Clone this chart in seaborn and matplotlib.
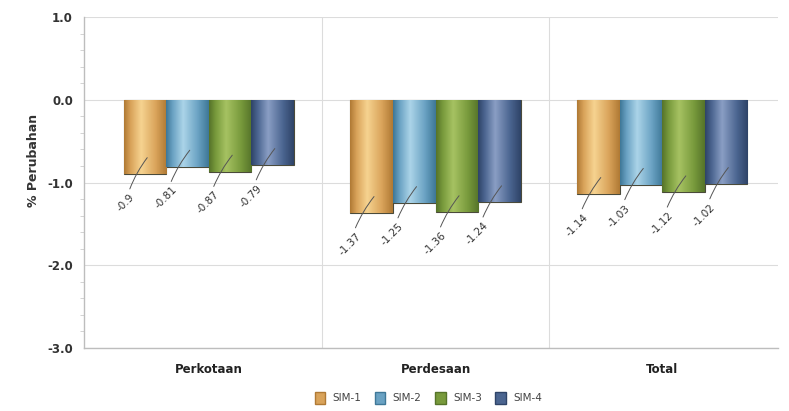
import numpy as np
import pandas as pd
import matplotlib
matplotlib.use("Agg")
import matplotlib.pyplot as plt
from matplotlib.colors import LinearSegmentedColormap
from matplotlib.patches import Patch
from matplotlib.ticker import MultipleLocator
import seaborn as sns

# data
categories = ["Perkotaan", "Perdesaan", "Total"]
series = ["SIM-1", "SIM-2", "SIM-3", "SIM-4"]
sim1 = [-0.90, -1.37, -1.14]
sim2 = [-0.81, -1.25, -1.03]
sim3 = [-0.87, -1.36, -1.12]
sim4 = [-0.79, -1.24, -1.02]

base_colors = ["#D9A35A", "#6AA2C3", "#789A3C", "#4B6590"]
light_colors = ["#F6D390", "#ABD4E8", "#A6C262", "#8A9EC4"]
dark_colors = ["#B07A35", "#3F7898", "#56742A", "#2F4468"]

df = pd.DataFrame({
    "wilayah": np.repeat(categories, len(series)),
    "sim": series * len(categories),
    "nilai": [v for grp in zip(sim1, sim2, sim3, sim4) for v in grp],
})

sns.set_style("white")
plt.rcParams["font.family"] = ["DejaVu Sans"]

fig = plt.figure(figsize=(7.89, 4.11), dpi=100)
ax = fig.add_axes([0.1065, 0.1533, 0.8795, 0.8053])

sns.barplot(data=df, x="wilayah", y="nilai", hue="sim", order=categories,
            hue_order=series, palette=base_colors, width=0.75,
            edgecolor="#4a4a3a", linewidth=0.8, legend=False, ax=ax, zorder=3)

# cylinder-like shading on each bar
for i, cont in enumerate(ax.containers):
    cmap = LinearSegmentedColormap.from_list(
        "g%d" % i, [(0.0, dark_colors[i]), (0.15, base_colors[i]),
                    (0.4, light_colors[i]), (0.75, base_colors[i]),
                    (1.0, dark_colors[i])])
    grad = np.linspace(0, 1, 64).reshape(1, -1)
    for p in cont.patches:
        x0, w, h = p.get_x(), p.get_width(), p.get_height()
        im = ax.imshow(grad, cmap=cmap, aspect="auto", zorder=3.5,
                       extent=[x0, x0 + w, h, 0])
        im.set_clip_path(p)
        # leader line + rotated value label
        xc = x0 + w / 2
        ax.annotate(f"{h:g}", xy=(xc + 0.01, h + 0.2),
                    xytext=(xc - 0.055, h - 0.26),
                    rotation=45, rotation_mode="anchor", ha="right", va="center",
                    fontsize=7.5, color="#333333", zorder=5,
                    arrowprops=dict(arrowstyle="-", color="#555555", lw=0.7,
                                    shrinkA=0, shrinkB=0,
                                    connectionstyle="arc3,rad=-0.1"))

ax.set_xlim(-0.55, 2.51)
ax.set_ylim(-3.0, 1.0)
ax.yaxis.set_major_locator(MultipleLocator(1.0))
ax.yaxis.set_minor_locator(MultipleLocator(0.2))
ax.yaxis.set_major_formatter(lambda v, pos: f"{v:.1f}")

ax.grid(axis="y", color="#dcdcdc", lw=0.8, zorder=0)
for sep in [0.5, 1.5]:
    ax.axvline(sep, color="#dcdcdc", lw=0.8, zorder=0)

for side in ["top", "right"]:
    ax.spines[side].set_visible(False)
ax.spines["left"].set_color("#bdbdbd")
ax.spines["bottom"].set_color("#bdbdbd")
ax.spines["left"].set_linewidth(1.0)
ax.spines["bottom"].set_linewidth(1.0)

ax.tick_params(axis="y", which="major", length=5, color="#cccccc",
               labelsize=8.5, labelcolor="#333333", pad=3)
ax.tick_params(axis="y", which="minor", length=3, color="#cccccc", left=True)
ax.tick_params(axis="x", length=0, labelsize=8.5, labelcolor="#222222", pad=11)
for lab in ax.get_yticklabels() + ax.get_xticklabels():
    lab.set_fontweight("bold")

ax.set_xlabel("")
ax.set_ylabel("% Perubahan", fontsize=9, fontweight="bold", color="#333333")
ax.yaxis.set_label_coords(-0.063, 0.568)

handles = [Patch(facecolor=base_colors[i], edgecolor=dark_colors[i], label=s)
           for i, s in enumerate(series)]
fig.legend(handles=handles, loc="center", bbox_to_anchor=(0.543, 0.032), ncol=4,
           frameon=False, fontsize=7.5, handlelength=1.0, handleheight=1.3,
           handletextpad=0.7, columnspacing=1.3, labelcolor="#444444")

fig.savefig("out.png", dpi=100)
